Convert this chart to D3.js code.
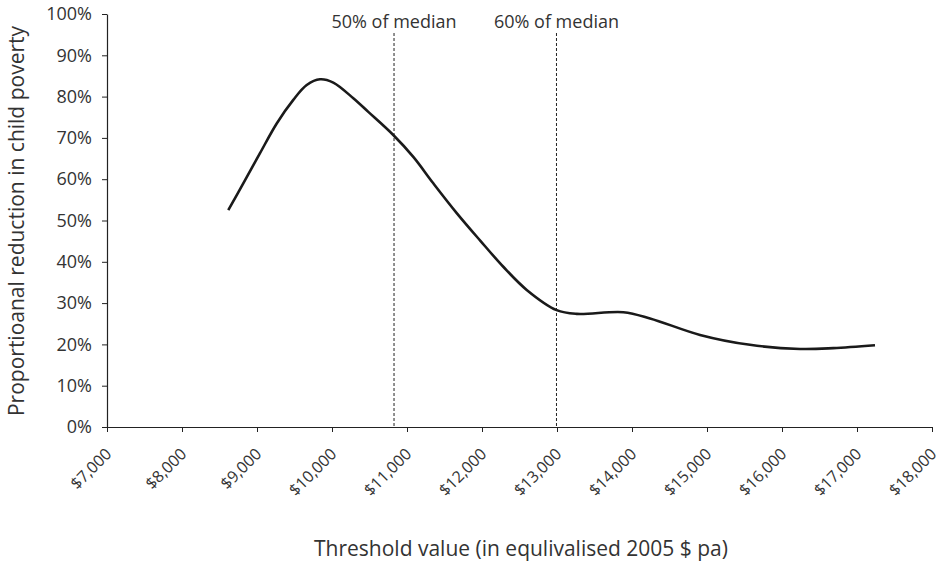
<!DOCTYPE html>
<html>
<head>
<meta charset="utf-8">
<script src="https://cdn.jsdelivr.net/npm/d3@7"></script>
<style>
  body { margin: 0; background: #fff; }
  text { font-family: "Open Sans", "Lato", sans-serif; fill: #333; }
</style>
</head>
<body>
<svg id="chart" width="940" height="563"></svg>
<script>
// Data
const thresholds = [8617, 8817, 9040, 9263, 9484, 9663, 9840, 10017, 10284, 10484, 10817, 11084, 11351, 11663, 11973, 12284, 12596, 12996, 13262, 13884, 14240, 14907, 15573, 16240, 16684, 17240];
const reduction  = [52.5, 59.0, 66.3, 73.5, 79.2, 82.8, 84.2, 83.4, 79.6, 76.3, 70.7, 65.4, 59.0, 51.8, 45.2, 38.8, 33.2, 28.3, 27.4, 27.8, 26.3, 22.3, 19.9, 18.9, 19.1, 19.8];
const xTicks = [7000, 8000, 9000, 10000, 11000, 12000, 13000, 14000, 15000, 16000, 17000, 18000];
const yTicks = [0, 10, 20, 30, 40, 50, 60, 70, 80, 90, 100];
const refLabels = ["50% of median", "60% of median"];
const refValues = [10827, 12993];
const xTitle = "Threshold value (in equlivalised 2005 $ pa)";
const yTitle = "Proportioanal reduction in child poverty";

(function () {
const svg = d3.select("#chart");
const pLeft = 107, pRight = 932, pTop = 14, pBottom = 427;

const x = d3.scaleLinear().domain([7000, 18000]).range([pLeft, pRight]);
const y = d3.scaleLinear().domain([0, 100]).range([pBottom, pTop]);

// Y axis
const yAxis = svg.append("g").attr("transform", `translate(${pLeft},0)`)
  .call(d3.axisLeft(y).tickValues(yTicks).tickSize(5).tickSizeOuter(0).tickPadding(10).tickFormat(d => d + "%"));
yAxis.select(".domain").attr("stroke", "#222").attr("stroke-width", 1.2);
yAxis.selectAll(".tick line").attr("stroke", "#222");
yAxis.selectAll("text").style("font-size", "18px").style("font-family", "'Open Sans', sans-serif").attr("fill", "#3a3a3a");

// X axis
const xAxis = svg.append("g").attr("transform", `translate(0,${pBottom})`)
  .call(d3.axisBottom(x).tickValues(xTicks).tickSize(5).tickSizeOuter(0).tickFormat(d => "$" + d3.format(",")(d)));
xAxis.select(".domain").attr("stroke", "#222").attr("stroke-width", 1.2);
xAxis.selectAll(".tick line").attr("stroke", "#222");
xAxis.selectAll("text")
  .style("font-size", "16px")
  .style("font-family", "'Open Sans', sans-serif")
  .attr("fill", "#3a3a3a")
  .attr("text-anchor", "end")
  .attr("dy", "0")
  .attr("y", 0)
  .attr("transform", "translate(5,28) rotate(-45)");

// Reference lines
refValues.forEach((v, i) => {
  svg.append("line")
    .attr("x1", x(v)).attr("x2", x(v))
    .attr("y1", 33).attr("y2", pBottom)
    .attr("stroke", "#222").attr("stroke-width", 1)
    .attr("stroke-dasharray", "3,2");
  svg.append("text")
    .attr("x", x(v)).attr("y", 28)
    .attr("text-anchor", "middle")
    .style("font-size", "18px")
    .attr("fill", "#3a3a3a")
    .text(refLabels[i]);
});

// Line
const data = thresholds.map((t, i) => [t, reduction[i]]);
svg.append("path")
  .datum(data)
  .attr("fill", "none")
  .attr("stroke", "#1a1a1a")
  .attr("stroke-width", 2.6)
  .attr("stroke-linejoin", "round")
  .attr("d", d3.line().x(d => x(d[0])).y(d => y(d[1])).curve(d3.curveCatmullRom.alpha(0.5)));

// Axis titles
svg.append("text")
  .attr("x", 521).attr("y", 556)
  .attr("text-anchor", "middle")
  .style("font-size", "21px")
  .attr("fill", "#3a3a3a")
  .text(xTitle);

svg.append("text")
  .attr("transform", "translate(24,221) rotate(-90)")
  .attr("text-anchor", "middle")
  .style("font-size", "21px")
  .attr("fill", "#3a3a3a")
  .text(yTitle);
})();
</script>
</body>
</html>
